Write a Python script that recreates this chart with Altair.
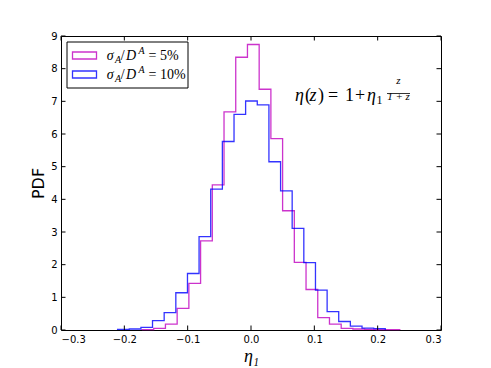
import altair as alt
import pandas as pd

# ---------------- data ----------------
mag_label = "sigma_A/D^A = 5%"
blue_label = "sigma_A/D^A = 10%"

mag_edges = [-0.1721, -0.1536, -0.1351, -0.1166, -0.0981, -0.0796, -0.0611, -0.0426,
             -0.0241, -0.0056, 0.0129, 0.0314, 0.0499, 0.0684, 0.0869, 0.1054,
             0.1239, 0.1424, 0.1609, 0.1794, 0.1979, 0.2164, 0.2349]
mag_pdf = [0.01, 0.05, 0.18, 0.66, 1.43, 2.73, 4.44, 6.68, 8.35, 8.74, 7.37,
           5.86, 3.65, 2.07, 1.24, 0.38, 0.18, 0.05, 0.03, 0.02, 0.01, 0.01]

blue_edges = [-0.2106, -0.1922, -0.1738, -0.1555, -0.1371, -0.1187, -0.1003, -0.0820,
              -0.0636, -0.0452, -0.0268, -0.0085, 0.0099, 0.0283, 0.0467, 0.0650,
              0.0834, 0.1018, 0.1202, 0.1385, 0.1569, 0.1753, 0.1937, 0.2120]
blue_pdf = [0.02, 0.03, 0.08, 0.29, 0.53, 1.14, 1.73, 2.86, 4.31, 5.77, 6.60, 7.01,
            6.89, 5.15, 4.26, 3.11, 2.06, 1.22, 0.56, 0.26, 0.12, 0.06, 0.04]

x_ticks = [-0.3, -0.2, -0.1, 0.0, 0.1, 0.2, 0.3]
y_ticks = [0, 1, 2, 3, 4, 5, 6, 7, 8, 9]

# ---------------- styling ----------------
W, H = 380, 294
MAG, BLUE = "#bf00bf", "#0000ff"
SERIF = "Liberation Serif"
SANS = "DejaVu Sans"
TICK = 4.5


def outline(edges, pdf, label):
    xs, ys = [edges[0]], [0.0]
    for k, h in enumerate(pdf):
        xs += [edges[k], edges[k + 1]]
        ys += [h, h]
    xs.append(edges[-1])
    ys.append(0.0)
    return pd.DataFrame({"eta1": xs, "pdf": ys, "order": list(range(len(xs))), "series": label})


hist_df = pd.concat([outline(mag_edges, mag_pdf, mag_label),
                     outline(blue_edges, blue_pdf, blue_label)], ignore_index=True)

xscale = alt.Scale(domain=[-0.3, 0.3], nice=False, zero=False)
yscale = alt.Scale(domain=[0, 9], nice=False, zero=True)

x_axis = alt.Axis(values=x_ticks, labelExpr="replace(format(datum.value, '.1f'), '-', '\u2212')",
                  title="η₁", ticks=False, tickSize=0,
                  domain=False, grid=False, labelFont=SANS, labelFontSize=10,
                  labelColor="black", labelPadding=4, titleFont=SERIF,
                  titleFontStyle="italic", titleFontWeight="normal", titleFontSize=18,
                  titleColor="black", titleBaseline="alphabetic", titleY=31)
y_axis = alt.Axis(values=y_ticks, format="d", title="PDF", ticks=False, tickSize=0,
                  domain=False, grid=False, labelFont=SANS, labelFontSize=10,
                  labelColor="black", labelPadding=4, titleFont=SANS,
                  titleFontSize=16, titleFontWeight="normal", titleColor="black",
                  titleAngle=270, titleAlign="center", titleBaseline="middle",
                  titleX=-22.5, titleY=H / 2)

hist = alt.Chart(hist_df).mark_line(strokeWidth=1.3, opacity=0.8).encode(
    x=alt.X("eta1:Q", scale=xscale, axis=x_axis),
    y=alt.Y("pdf:Q", scale=yscale, axis=y_axis),
    color=alt.Color("series:N", scale=alt.Scale(domain=[mag_label, blue_label], range=[MAG, BLUE]),
                    legend=None),
    detail="series:N",
    order="order:Q",
)

xt = pd.DataFrame({"eta1": x_ticks})
yt = pd.DataFrame({"pdf": y_ticks})
tick_layers = [
    alt.Chart(xt).mark_rule(color="black", strokeWidth=1).encode(
        x=alt.X("eta1:Q", axis=x_axis), y=alt.value(H), y2=alt.value(H - TICK)),
    alt.Chart(xt).mark_rule(color="black", strokeWidth=1).encode(
        x=alt.X("eta1:Q", axis=x_axis), y=alt.value(0), y2=alt.value(TICK)),
    alt.Chart(yt).mark_rule(color="black", strokeWidth=1).encode(
        y=alt.Y("pdf:Q", axis=y_axis), x=alt.value(0), x2=alt.value(TICK)),
    alt.Chart(yt).mark_rule(color="black", strokeWidth=1).encode(
        y=alt.Y("pdf:Q", axis=y_axis), x=alt.value(W), x2=alt.value(W - TICK)),
]


def txt(s, x, y, size, style="normal", font=SERIF, align="left", baseline="alphabetic"):
    return alt.Chart(pd.DataFrame({"t": [s]})).mark_text(
        font=font, fontSize=size, fontStyle=style, align=align, baseline=baseline,
        color="black").encode(text="t:N", x=alt.value(x), y=alt.value(y))


# ---- legend box ----
legend_layers = [
    alt.Chart(pd.DataFrame({"a": [0]})).mark_rect(fill="white", stroke="black", strokeWidth=1).encode(
        x=alt.value(6), x2=alt.value(127), y=alt.value(6), y2=alt.value(52)),
]
for row_y, col, pct in [(23.5, MAG, "5%"), (42.5, BLUE, "10%")]:
    legend_layers.append(
        alt.Chart(pd.DataFrame({"a": [0]})).mark_rect(fill="white", stroke=col, strokeWidth=1.3,
                                                      strokeOpacity=0.8).encode(
            x=alt.value(11.5), x2=alt.value(35.5), y=alt.value(row_y - 7.5), y2=alt.value(row_y - 0.5)))
    for s, x, dy, size, style in [("σ", 45.7, 0, 14, "italic"), ("A", 54, 3, 10, "italic"),
                                  ("/", 59.7, 0, 14, "normal"), ("D", 65, 0, 14, "italic"),
                                  ("A", 77.5, -6, 10, "italic"), ("=", 87.5, 0, 14, "normal"),
                                  (pct, 99, 0, 14, "normal")]:
        legend_layers.append(txt(s, x, row_y + dy, size, style))

# ---- annotation eta(z) = 1 + eta_1 z/(1+z) ----
B = 65
ann_layers = [
    txt("η", 234, B, 18, "italic"),
    txt("(", 244, B, 18, "normal"),
    txt("z", 248.5, B, 18, "italic"),
    txt(")", 257, B, 18, "normal"),
    txt("=", 267, B, 18, "normal"),
    txt("1", 284, B, 18, "normal"),
    txt("+", 294, B, 18, "normal"),
    txt("η", 306, B, 18, "italic"),
    txt("1", 315.5, B + 3, 12, "normal"),
    txt("z", 337.5, 48, 11, "italic", align="center"),
    txt("1 + z", 337.5, 64, 11, "italic", align="center"),
    alt.Chart(pd.DataFrame({"a": [0]})).mark_rule(color="black", strokeWidth=0.8).encode(
        x=alt.value(326), x2=alt.value(349), y=alt.value(57.5)),
]

chart = alt.layer(hist, *tick_layers, *legend_layers, *ann_layers).properties(
    width=W, height=H,
    background="white",
    autosize=alt.AutoSizeParams(type="none"),
    padding={"left": 53, "top": 28, "right": 42, "bottom": 36},
).configure_view(stroke="black", strokeWidth=1)

chart.save("out.html", embed_options={"renderer": "svg", "actions": False})
